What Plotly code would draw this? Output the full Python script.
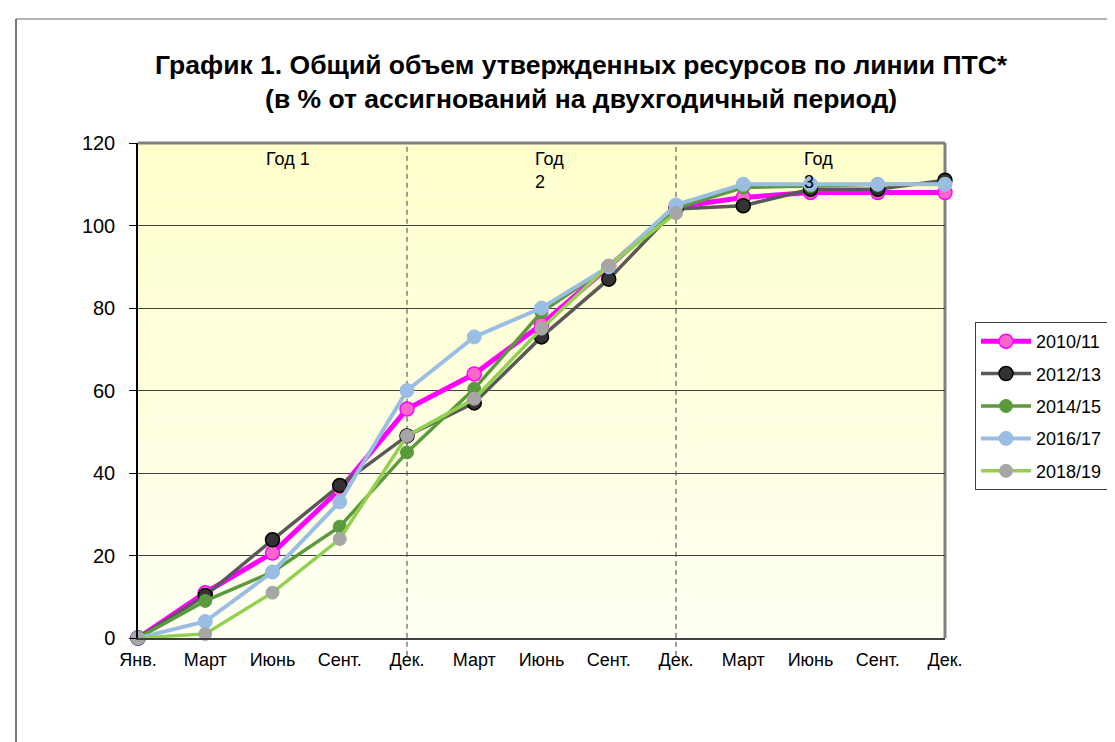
import plotly.graph_objects as go

months = ["Янв.", "Март", "Июнь", "Сент.", "Дек.", "Март", "Июнь", "Сент.", "Дек.",
          "Март", "Июнь", "Сент.", "Дек."]
x_pos = list(range(len(months)))

s2010_11 = [0, 11, 20.6, 36, 55.5, 64, 76, 90, 104.5, 106.8, 108, 108, 108]
s2012_13 = [0, 10.3, 23.8, 37, 49, 57, 73, 87, 104, 104.8, 108.8, 108.8, 111]
s2014_15 = [0, 9, 16, 27, 45, 60.4, 79, 90, 104.2, 109.2, 109.6, 110, 110]
s2016_17 = [0, 4, 16, 33, 60, 73, 80, 90, 105, 110, 110, 110, 110]
s2018_19 = [0, 1, 11, 24, 49, 58, 75, 90.3, 103, None, None, None, None]

series_names = ["2010/11", "2012/13", "2014/15", "2016/17", "2018/19"]
series_values = [s2010_11, s2012_13, s2014_15, s2016_17, s2018_19]

year_labels = ["Год 1", "Год<br>2", "Год<br>3"]
year_label_x = [1.87, 5.88, 9.87]
year_dividers = [4, 8]

styles = [
    dict(line=dict(color="#FF00FF", width=5), marker=dict(color="#FF66CC", size=14, line=dict(color="#FF00FF", width=1.5))),
    dict(line=dict(color="#595959", width=3.5), marker=dict(color="#333333", size=14, line=dict(color="#000000", width=1.5))),
    dict(line=dict(color="#5B9A3C", width=3.5), marker=dict(color="#5B9A3C", size=13, line=dict(color="#5B9A3C", width=1))),
    dict(line=dict(color="#99BDE3", width=4), marker=dict(color="#99BDE3", size=14, line=dict(color="#99BDE3", width=1))),
    dict(line=dict(color="#92D050", width=3.5), marker=dict(color="#A6A6A6", size=13, line=dict(color="#A6A6A6", width=1))),
]

FONT = "Arial, Liberation Sans, sans-serif"

fig = go.Figure()
for name, vals, st in zip(series_names, series_values, styles):
    fig.add_trace(go.Scatter(
        x=x_pos, y=vals, name=name, mode="lines+markers",
        line=st["line"], marker=dict(symbol="circle", **st["marker"]),
        cliponaxis=False, legendgroup=name,
    ))

shapes = []
# vertical gradient background (light yellow to near-white)
n_bands = 30
top = (255, 255, 204)
bot = (255, 255, 242)
for i in range(n_bands):
    t = i / (n_bands - 1)
    c = tuple(round(top[k] + (bot[k] - top[k]) * t) for k in range(3))
    shapes.append(dict(type="rect", xref="x domain", yref="y domain",
                       x0=0, x1=1, y0=1 - (i + 1) / n_bands, y1=1 - i / n_bands,
                       fillcolor="rgb(%d,%d,%d)" % c, line=dict(width=0), layer="below"))
# year dividers
for xd in year_dividers:
    shapes.append(dict(type="line", xref="x", yref="y domain", x0=xd, x1=xd, y0=-0.036, y1=1,
                       line=dict(color="#404040", width=1, dash="5px,4px"), layer="below"))
# plot-area right and top border (grey)
shapes.append(dict(type="line", xref="x domain", yref="y domain", x0=1, x1=1, y0=0, y1=1,
                   line=dict(color="#808080", width=3), layer="below"))
shapes.append(dict(type="line", xref="x domain", yref="y domain", x0=0, x1=1, y0=1, y1=1,
                   line=dict(color="#808080", width=3), layer="above"))
# outer chart frame
shapes.append(dict(type="line", xref="paper", yref="paper", x0=-0.1512, x1=-0.1512, y0=-0.24, y1=1.2505,
                   line=dict(color="#777777", width=2), layer="above"))
shapes.append(dict(type="line", xref="paper", yref="paper", x0=-0.1512, x1=1.25, y0=1.2505, y1=1.2505,
                   line=dict(color="#666666", width=1), layer="above"))

annotations = []
for txt, xa in zip(year_labels, year_label_x):
    annotations.append(dict(text=txt, x=xa, y=119, xref="x", yref="y", showarrow=False,
                            xanchor="left", yanchor="top", align="left",
                            font=dict(family=FONT, size=18, color="#000000")))

fig.update_layout(
    width=1115, height=742,
    margin=dict(l=130, r=178, t=135, b=112),
    paper_bgcolor="white", plot_bgcolor="white",
    title=dict(text="<b>График 1. Общий объем утвержденных ресурсов по линии ПТС*<br>(в % от ассигнований на двухгодичный период)</b>",
               x=0.514, xanchor="center", y=0.9115, yanchor="top",
               font=dict(family=FONT, size=26.5, color="#000000")),
    font=dict(family=FONT, color="#000000"),
    shapes=shapes, annotations=annotations,
    legend=dict(x=1.0372, xanchor="left", y=0.6384, yanchor="top",
                bordercolor="#404040", borderwidth=1, bgcolor="white",
                font=dict(family=FONT, size=18), tracegroupgap=6,
                itemwidth=50),
    showlegend=True,
)
fig.update_xaxes(range=[0, 12], tickvals=x_pos, ticktext=months, showgrid=False,
                 showline=True, linecolor="#404040", linewidth=1.5, ticks="",
                 tickfont=dict(family=FONT, size=18), ticklabelstandoff=5, zeroline=False)
fig.update_yaxes(range=[0, 120], dtick=20, showgrid=True, gridcolor="#404040", gridwidth=1,
                 showline=True, linecolor="#000000", linewidth=1.5, ticks="outside",
                 ticklen=7, tickcolor="#000000", tickfont=dict(family=FONT, size=20),
                 ticklabelstandoff=10, zeroline=False)

fig.write_html("out.html")
